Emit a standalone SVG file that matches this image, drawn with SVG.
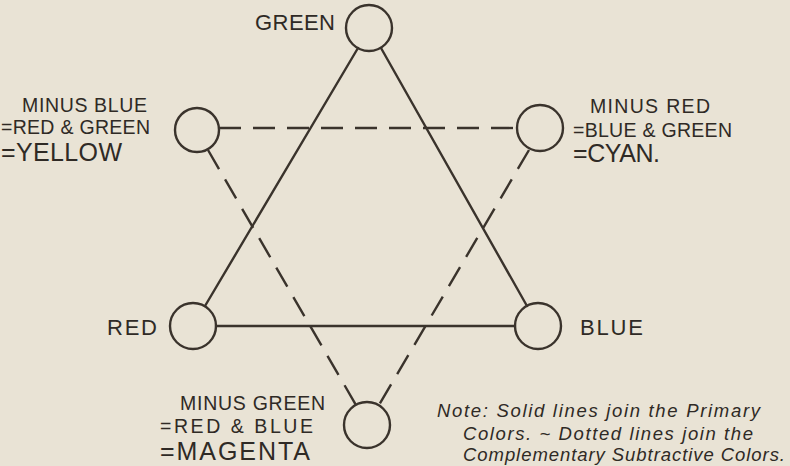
<svg xmlns="http://www.w3.org/2000/svg" width="790" height="466" viewBox="0 0 790 466">
<style>
  .bg{fill:#e9e3d5}
  .node{fill:none;stroke:#3a332c;stroke-width:2.4}
  .solid{stroke:#3a332c;stroke-width:2.4;fill:none;stroke-linecap:round}
  .dash{stroke:#3a332c;stroke-width:2.4;fill:none;stroke-dasharray:22 12}
  text{font-family:"Liberation Sans","DejaVu Sans",sans-serif;fill:#2f2a25}
  .p{font-size:22px}
  .s{font-size:19.5px}
  .b{font-size:25px}
  .n{font-size:18.5px;font-style:italic}
</style>
<rect class="bg" x="0" y="0" width="790" height="466"/>
<g id="connectors">
  <line class="solid" x1="358" y1="48" x2="205" y2="306"/>
  <line class="solid" x1="381" y1="48" x2="527" y2="306"/>
  <line class="solid" x1="216" y1="326" x2="515" y2="326"/>
  <line class="dash" x1="219" y1="128" x2="519" y2="128"/>
  <line class="dash" x1="208" y1="150" x2="356" y2="405"/>
  <line class="dash" x1="529" y1="150" x2="379" y2="405"/>
</g>
<g id="green">
  <circle class="node" cx="369" cy="28" r="23"/>
  <text class="p" x="255" y="30" textLength="80">GREEN</text>
</g>
<g id="red">
  <circle class="node" cx="193" cy="326" r="23"/>
  <text class="p" x="107" y="335" textLength="50">RED</text>
</g>
<g id="blue">
  <circle class="node" cx="538" cy="326" r="23"/>
  <text class="p" x="580" y="335" textLength="63">BLUE</text>
</g>
<g id="yellow">
  <circle class="node" cx="197" cy="130" r="22"/>
  <text class="s" x="22" y="112" textLength="125">MINUS BLUE</text>
  <text class="s" x="1" y="134" textLength="149">=RED &amp; GREEN</text>
  <text class="b" x="1" y="161" textLength="121">=YELLOW</text>
</g>
<g id="cyan">
  <circle class="node" cx="540" cy="128" r="23"/>
  <text class="s" x="590" y="113" textLength="120">MINUS RED</text>
  <text class="s" x="573" y="137" textLength="159">=BLUE &amp; GREEN</text>
  <text class="b" x="573" y="162" textLength="87">=CYAN.</text>
</g>
<g id="magenta">
  <circle class="node" cx="367" cy="425" r="23"/>
  <text class="s" x="180" y="410" textLength="145">MINUS GREEN</text>
  <text class="s" x="160" y="433" textLength="153">=RED &amp; BLUE</text>
  <text class="b" x="160" y="460" textLength="150">=MAGENTA</text>
</g>
<g id="note">
  <text class="n" x="437" y="417" textLength="323">Note: Solid lines join the Primary</text>
  <text class="n" x="463" y="440" textLength="290">Colors. ~ Dotted lines join the</text>
  <text class="n" x="463" y="461" textLength="322">Complementary Subtractive Colors.</text>
</g>
</svg>
